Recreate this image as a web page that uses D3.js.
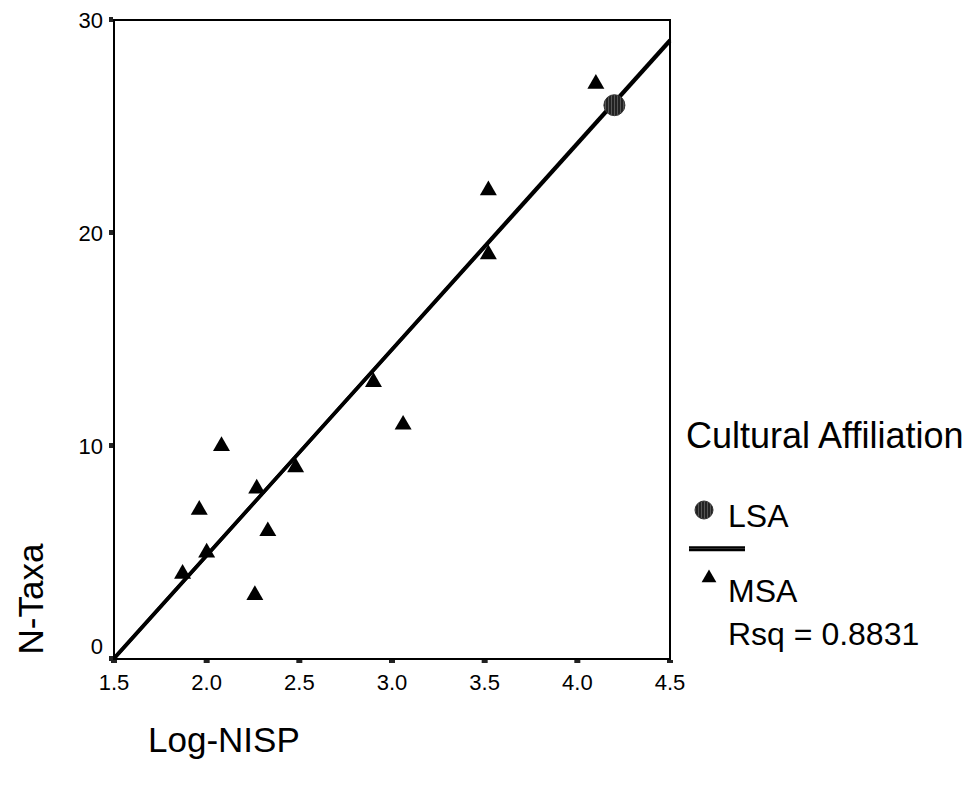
<!DOCTYPE html>
<html>
<head>
<meta charset="utf-8">
<script src="https://cdn.jsdelivr.net/npm/d3@7"></script>
<style>
  body { margin: 0; background: #fff; }
  text { font-family: "Liberation Sans", Arial, sans-serif; fill: #000; }
</style>
</head>
<body>
<svg id="chart" width="976" height="787"></svg>
<script>
// data
var msaLogNisp = [1.87, 1.96, 2.00, 2.08, 2.26, 2.27, 2.33, 2.48, 2.90, 3.06, 3.52, 3.52, 4.10];
var msaTaxa    = [4,    7,    5,    10,   3,    8,    6,    9,    13,   11,   22,   19,   27];
var lsaLogNisp = [4.20];
var lsaTaxa    = [26];
var xTicks = [1.5, 2.0, 2.5, 3.0, 3.5, 4.0, 4.5];
var yTicks = [0, 10, 20, 30];
var legendItems = ["LSA", "MSA"];
var rsqLabel = "Rsq = 0.8831";

var plotLeft = 114, plotRight = 670, plotTop = 20, plotBottom = 659;

var svg = d3.select("#chart");
var x = d3.scaleLinear().domain([1.5, 4.5]).range([plotLeft, plotRight]);
var y = d3.scaleLinear().domain([0, 30]).range([plotBottom, plotTop]);

var defs = svg.append("defs");
defs.append("clipPath").attr("id", "plotclip")
    .append("rect").attr("x", plotLeft).attr("y", plotTop - 30)
    .attr("width", plotRight - plotLeft + 4).attr("height", plotBottom - plotTop + 30);

// hatched fill for the LSA marker
var pat = defs.append("pattern").attr("id", "hatch")
    .attr("patternUnits", "userSpaceOnUse").attr("width", 3).attr("height", 3);
pat.append("rect").attr("width", 3).attr("height", 3).attr("fill", "#555");
pat.append("line").attr("x1", 1).attr("y1", 0).attr("x2", 1).attr("y2", 3)
    .attr("stroke", "#111").attr("stroke-width", 1.5);

// frame
svg.append("rect")
    .attr("x", plotLeft).attr("y", plotTop)
    .attr("width", plotRight - plotLeft).attr("height", plotBottom - plotTop)
    .attr("fill", "none").attr("stroke", "#000").attr("stroke-width", 2);

// tick marks (little squares) and labels
svg.selectAll("rect.xtick").data(xTicks).enter().append("rect")
    .attr("class", "xtick")
    .attr("x", function(d){ return x(d) - 3; }).attr("y", plotBottom + 1)
    .attr("width", 6).attr("height", 3).attr("fill", "#222");
svg.selectAll("text.xlab").data(xTicks).enter().append("text")
    .attr("class", "xlab")
    .attr("x", function(d){ return x(d); }).attr("y", plotBottom + 31)
    .attr("text-anchor", "middle").attr("font-size", 22)
    .text(function(d){ return d.toFixed(1); });

svg.selectAll("rect.ytick").data(yTicks).enter().append("rect")
    .attr("class", "ytick")
    .attr("x", plotLeft - 5).attr("y", function(d){ return y(d) - 3; })
    .attr("width", 4).attr("height", 5).attr("fill", "#222");
svg.selectAll("text.ylab").data(yTicks).enter().append("text")
    .attr("class", "ylab")
    .attr("x", plotLeft - 11).attr("y", function(d){ return y(d) + (d === 0 ? -12 : 1); })
    .attr("dy", "0.32em")
    .attr("text-anchor", "end").attr("font-size", 22)
    .text(function(d){ return d; });

// axis titles
svg.append("text")
    .attr("transform", "translate(43,599) rotate(-90)")
    .attr("text-anchor", "middle").attr("font-size", 35)
    .text("N-Taxa");
svg.append("text")
    .attr("x", 148).attr("y", 752)
    .attr("font-size", 35)
    .text("Log-NISP");

// least squares fits: all cases and MSA only
function fit(xs, ys) {
    var mx = d3.mean(xs), my = d3.mean(ys), sxy = 0, sxx = 0;
    xs.forEach(function(v, i){ sxy += (v - mx) * (ys[i] - my); sxx += (v - mx) * (v - mx); });
    var b = sxy / sxx;
    return { b: b, a: my - b * mx };
}
var allX = msaLogNisp.concat(lsaLogNisp), allY = msaTaxa.concat(lsaTaxa);
var fits = [fit(allX, allY), fit(msaLogNisp, msaTaxa)];

svg.append("g").attr("clip-path", "url(#plotclip)")
    .selectAll("line.fit").data(fits).enter().append("line")
    .attr("class", "fit")
    .attr("x1", x(1.5)).attr("y1", function(f){ return y(f.a + f.b * 1.5); })
    .attr("x2", x(4.5)).attr("y2", function(f){ return y(f.a + f.b * 4.5); })
    .attr("stroke", "#000").attr("stroke-width", 3.6);

// points
var tri = d3.symbol().type(d3.symbolTriangle).size(125);
svg.selectAll("path.msa").data(msaLogNisp).enter().append("path")
    .attr("class", "msa")
    .attr("d", tri)
    .attr("transform", function(d, i){ return "translate(" + x(d) + "," + y(msaTaxa[i]) + ")"; })
    .attr("fill", "#000");

svg.selectAll("circle.lsa").data(lsaLogNisp).enter().append("circle")
    .attr("class", "lsa")
    .attr("cx", function(d){ return x(d); })
    .attr("cy", function(d, i){ return y(lsaTaxa[i]); })
    .attr("r", 10.5)
    .attr("fill", "url(#hatch)").attr("stroke", "#333").attr("stroke-width", 1);

// legend
var lg = svg.append("g");
lg.append("text").attr("x", 686).attr("y", 448).attr("font-size", 36).text("Cultural Affiliation");

lg.append("circle").attr("cx", 704).attr("cy", 510).attr("r", 9)
    .attr("fill", "url(#hatch)").attr("stroke", "#333").attr("stroke-width", 1);
lg.append("text").attr("x", 728).attr("y", 527).attr("font-size", 32).text(legendItems[0]);

lg.append("line").attr("x1", 689).attr("x2", 745).attr("y1", 547.5).attr("y2", 547.5)
    .attr("stroke", "#000").attr("stroke-width", 2.5);
lg.append("line").attr("x1", 689).attr("x2", 745).attr("y1", 550).attr("y2", 550)
    .attr("stroke", "#000").attr("stroke-width", 2.5);

lg.append("path").attr("d", d3.symbol().type(d3.symbolTriangle).size(95))
    .attr("transform", "translate(709,578)").attr("fill", "#000");
lg.append("text").attr("x", 728).attr("y", 602).attr("font-size", 32).text(legendItems[1]);

lg.append("text").attr("x", 728).attr("y", 645).attr("font-size", 32).text(rsqLabel);
</script>
</body>
</html>
